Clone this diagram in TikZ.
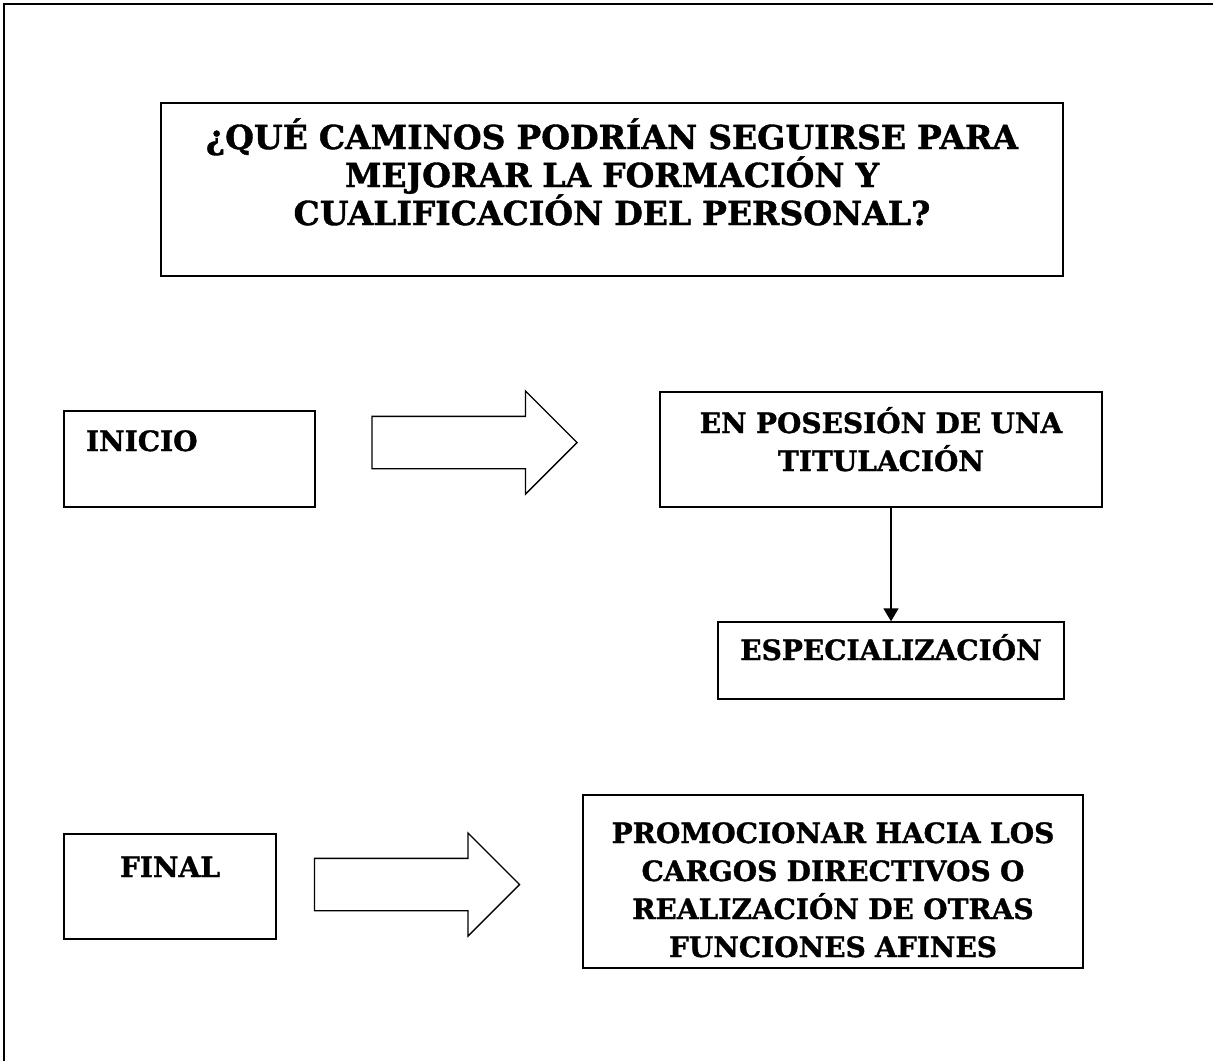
\documentclass[tikz,border=0pt]{standalone}
\usepackage{fontspec}
\setmainfont{DejaVu Serif}[BoldFeatures={FakeBold=1.2}]
\usetikzlibrary{arrows.meta,shapes.arrows}

\begin{document}
\begin{tikzpicture}[>=Stealth,x=1pt,y=-1pt,
    box/.style={draw,line width=1.4pt,inner sep=0pt,align=center,
      font=\bfseries\fontsize{28}{38}\selectfont},
    bigarrow/.style={single arrow,draw,line width=1.3pt,inner sep=0pt,
      text height=51pt,text depth=0pt,
      minimum height=205pt,minimum width=102pt,
      single arrow head extend=25.5pt,single arrow tip angle=90}]
  \useasboundingbox (0,0) rectangle (1213,1061);
  \draw[line width=2.5pt] (4,1061) -- (4,4) -- (1213,4);
  % pregunta
  \node[box,minimum width=902pt,minimum height=173pt,text width=902pt,
        text height=24pt,text depth=105pt,
        font=\bfseries\fontsize{33}{38}\selectfont]
        (pregunta) at (612,189.5)
        {¿QUÉ CAMINOS PODRÍAN SEGUIRSE PARA\\ MEJORAR LA FORMACIÓN Y\\ CUALIFICACIÓN DEL PERSONAL?};
  % primera fila
  \node[box,minimum width=251pt,minimum height=96pt,text width=207pt,align=left,
        text height=20pt,text depth=36pt] (inicio) at (189.5,459) {INICIO};
  \node[bigarrow] (flechaA) at (461.5,442.5) {};
  \node[box,minimum width=442pt,minimum height=115pt,text width=442pt,
        text height=20pt,text depth=53pt] (posesion) at (881,449.5)
        {EN POSESIÓN DE UNA\\ TITULACIÓN};
  \node[box,minimum width=346pt,minimum height=77pt,
        text height=20pt,text depth=21pt] (especial) at (891,660.5)
        {ESPECIALIZACIÓN};
  \draw[-{Triangle[width=15pt,length=13pt]},line width=1.8pt]
        (posesion.south -| especial.north) -- (especial.north);
  % segunda fila
  \node[box,minimum width=212pt,minimum height=105pt,
        text height=20pt,text depth=39pt] (final) at (170,886.5) {FINAL};
  \node[bigarrow] (flechaB) at (404,884.5) {};
  \node[box,minimum width=500pt,minimum height=173pt,text width=500pt,
        text height=20pt,text depth=97pt] (promocion) at (833,881.5)
        {PROMOCIONAR HACIA LOS\\ CARGOS DIRECTIVOS O\\ REALIZACIÓN DE OTRAS\\ FUNCIONES AFINES};
\end{tikzpicture}
\end{document}
